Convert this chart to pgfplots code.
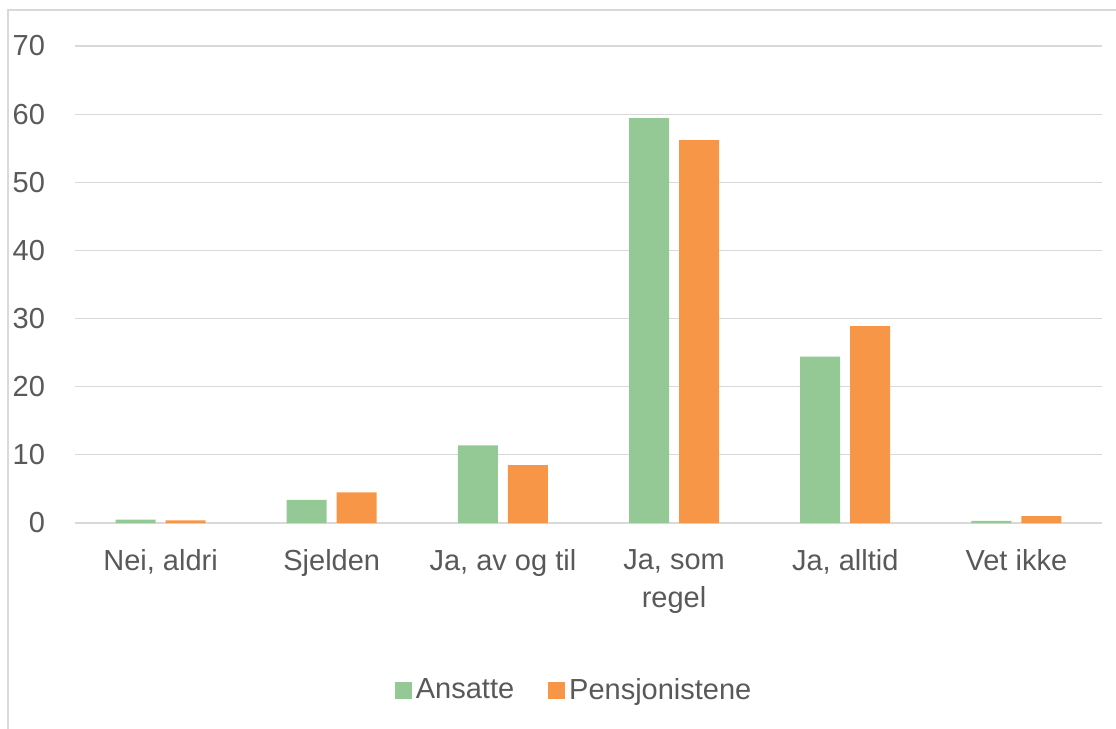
\documentclass[border=0pt]{standalone}
\usepackage{fontspec}
\setmainfont{Liberation Sans}
\usepackage{pgfplots}
\pgfplotsset{compat=1.18}
\definecolor{ansatte}{HTML}{94C995}
\definecolor{pensj}{HTML}{F79646}
\definecolor{txtgray}{HTML}{595959}
\definecolor{gridgray}{HTML}{D9D9D9}

\begin{document}
\begin{tikzpicture}
\fontsize{14.5}{17}\selectfont
\useasboundingbox (-37.5pt,-103pt) rectangle (520.5pt,261.5pt);
\draw[gridgray, line width=0.6pt] (-33.5pt,-104pt) -- (-33.5pt,256.5pt) -- (521pt,256.5pt);
\begin{axis}[
    at={(0pt,0pt)}, anchor=south west,
    scale only axis,
    width=513.5pt, height=238.5pt,
    ybar=5pt, bar width=20pt,
    xmin=-0.5, xmax=5.5,
    ymin=0, ymax=70,
    ytick={0,10,...,70},
    xtick=data,
    xticklabels={Nei{,} aldri, Sjelden, Ja{,} av og til, {Ja, som\\regel}, Ja{,} alltid, Vet ikke},
    major tick length=0pt,
    axis line style={draw=none},
    ymajorgrids, grid style={gridgray, line width=0.6pt},
    tick label style={font=\fontsize{14.5}{19}\selectfont, text=txtgray},
    /pgf/number format/assume math mode=true,
    yticklabel style={anchor=east, xshift=-10pt},
    xticklabel style={align=center, anchor=north, yshift=-8pt},
    legend style={draw=none, at={(0.487,-0.352)}, anchor=center,
        font=\fontsize{14.5}{17}\selectfont, text=txtgray, legend columns=2},
    /tikz/every even column/.append style={column sep=15pt},
    legend image code/.code={\fill[#1] (0pt,-4.25pt) rectangle (8.5pt,4.25pt);},
    legend cell align=left,
]
\addplot[fill=ansatte, draw=none] coordinates {
    (0,0.5) (1,3.4) (2,11.4) (3,59.4) (4,24.4) (5,0.3)
};
\addplot[fill=pensj, draw=none] coordinates {
    (0,0.4) (1,4.5) (2,8.5) (3,56.2) (4,28.9) (5,1.0)
};
\legend{Ansatte, Pensjonistene}
\end{axis}
\end{tikzpicture}
\end{document}
